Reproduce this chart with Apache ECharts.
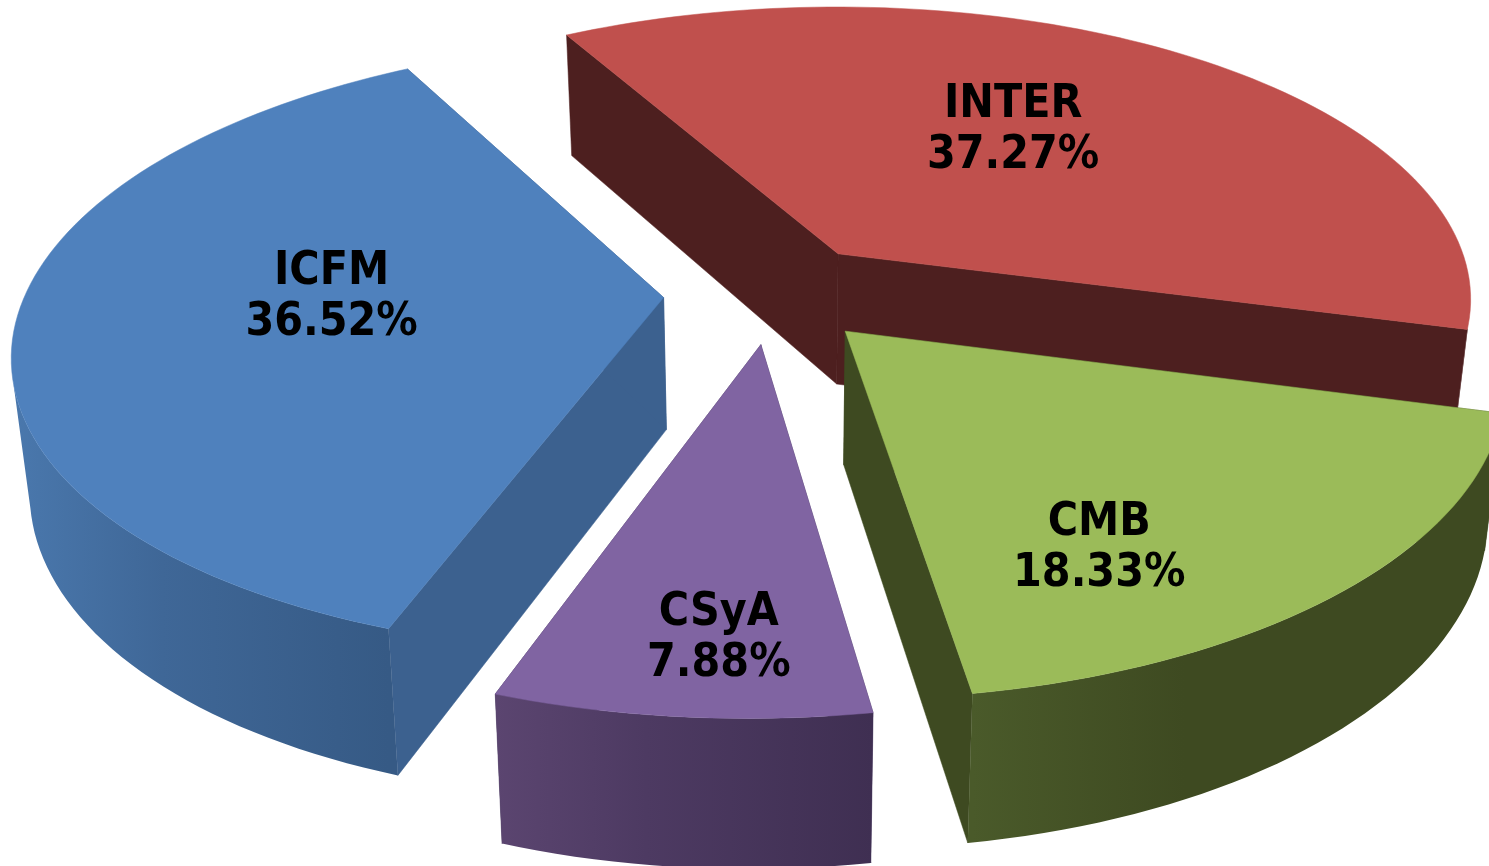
<!DOCTYPE html>
<html>
<head>
<meta charset="utf-8">
<style>
  html, body { margin: 0; padding: 0; background: #fff; }
  #chart { width: 1489px; height: 866px; }
</style>
<script src="https://cdn.jsdelivr.net/npm/echarts@6/dist/echarts.min.js"></script>
</head>
<body>
<div id="chart"></div>
<script>
(function() {
  var categories = ['INTER', 'CMB', 'CSyA', 'ICFM'];
  var shares = [37.27, 18.33, 7.88, 36.52];

  // colours per slice: top face, cut faces, curved wall left -> right
  var topColors = ['#c0504d', '#9bbb59', '#8064a2', '#4f81bd'];
  var cutColors = ['#4d1f1f', '#3e4a21', '#43335a', '#3c618f'];
  var wallColors = [
    ['#4d1f1f', '#4d1f1f', '#4d1f1f'],
    ['#4a5a2a', '#3e4a21', '#3e4a21'],
    ['#5b4570', '#4d3a62', '#3f2f52'],
    ['#4a78ad', '#3f6797', '#365a85']
  ];

  // label position relative to the slice tip, px
  var labelOffsets = [[175, -123], [254, 217], [-42, 294], [-332, 0]];

  // perspective camera fitted to the picture, pie radius = 1 in plane units
  var center = [772, 293];
  var vanishX = 829;
  var scaleX = 638, scaleY = 297, persp = 0.157;
  var startAngle = -29.4;
  var explode = 0.17;
  // part of the circle whose curved wall faces the viewer
  var wallFrom = 104, wallTo = 256;

  function dir(deg) {
    var a = deg * Math.PI / 180;
    return [Math.sin(a), -Math.cos(a)];
  }
  function project(p) {
    var s = 1 / (1 - persp * p[1]);
    return [
      vanishX + (center[0] - vanishX + scaleX * p[0]) * s,
      center[1] + scaleY * p[1] * s
    ];
  }
  // bottom rim of a point on the top face
  function drop(pt) {
    return [pt[0] + (780 - pt[0]) * 0.024, pt[1] + 119 + pt[1] * 0.044];
  }

  var total = shares.reduce(function(s, v) { return s + v; }, 0);

  function renderSlice(params, api) {
    var i = params.dataIndex;
    var before = 0;
    for (var k = 0; k < i; k++) before += shares[k];
    var from = startAngle + before / total * 360;
    var to = from + api.value(1) / total * 360;
    var m = dir((from + to) / 2);
    var tipWorld = [explode * m[0], explode * m[1]];
    var apex = project(tipWorld);

    function rimPoint(deg) {
      var c = dir(deg);
      return project([tipWorld[0] + c[0], tipWorld[1] + c[1]]);
    }
    function arc(a, b) {
      var pts = [];
      for (var d = a; d < b; d += 1.5) pts.push(rimPoint(d));
      pts.push(rimPoint(b));
      return pts;
    }
    var rim = arc(from, to);
    var first = rim[0], last = rim[rim.length - 1];

    function cut(pt, color) {
      return {
        type: 'polygon',
        shape: { points: [apex, pt, drop(pt), drop(apex)] },
        style: { fill: color, stroke: color, lineWidth: 0.5 }
      };
    }

    var front = arc(Math.max(from, wallFrom), Math.min(to, wallTo));
    var xs = front.map(function(p) { return p[0]; });
    var wallFill = new echarts.graphic.LinearGradient(Math.min.apply(null, xs), 0, Math.max.apply(null, xs), 0, [
      { offset: 0, color: wallColors[i][0] },
      { offset: 0.4, color: wallColors[i][1] },
      { offset: 1, color: wallColors[i][2] }
    ], true);
    var wall = {
      type: 'polygon',
      shape: { points: front.concat(front.map(function(p) { return drop(p); }).reverse()) },
      style: { fill: wallFill }
    };

    var top = {
      type: 'polygon',
      shape: { points: [apex].concat(rim) },
      style: { fill: topColors[i], stroke: topColors[i], lineWidth: 0.5 }
    };
    var label = {
      type: 'text',
      z2: 10,
      style: {
        x: apex[0] + labelOffsets[i][0],
        y: apex[1] + labelOffsets[i][1],
        text: categories[i] + '\n' + api.value(1).toFixed(2) + '%',
        textAlign: 'center',
        textVerticalAlign: 'middle',
        font: 'bold 46px "DejaVu Sans Condensed", "DejaVu Sans"',
        lineHeight: 51,
        fill: '#000'
      }
    };
    return { type: 'group', children: [cut(first, cutColors[i]), cut(last, cutColors[i]), wall, top, label] };
  }

  var chart = echarts.init(document.getElementById('chart'), null, { renderer: 'canvas' });
  chart.setOption({
    animation: false,
    backgroundColor: '#fff',
    series: [{
      type: 'custom',
      coordinateSystem: 'none',
      renderItem: renderSlice,
      data: categories.map(function(c, i) { return [c, shares[i]]; })
    }]
  });
  window.addEventListener('resize', function() { chart.resize(); });
})();
</script>
</body>
</html>
